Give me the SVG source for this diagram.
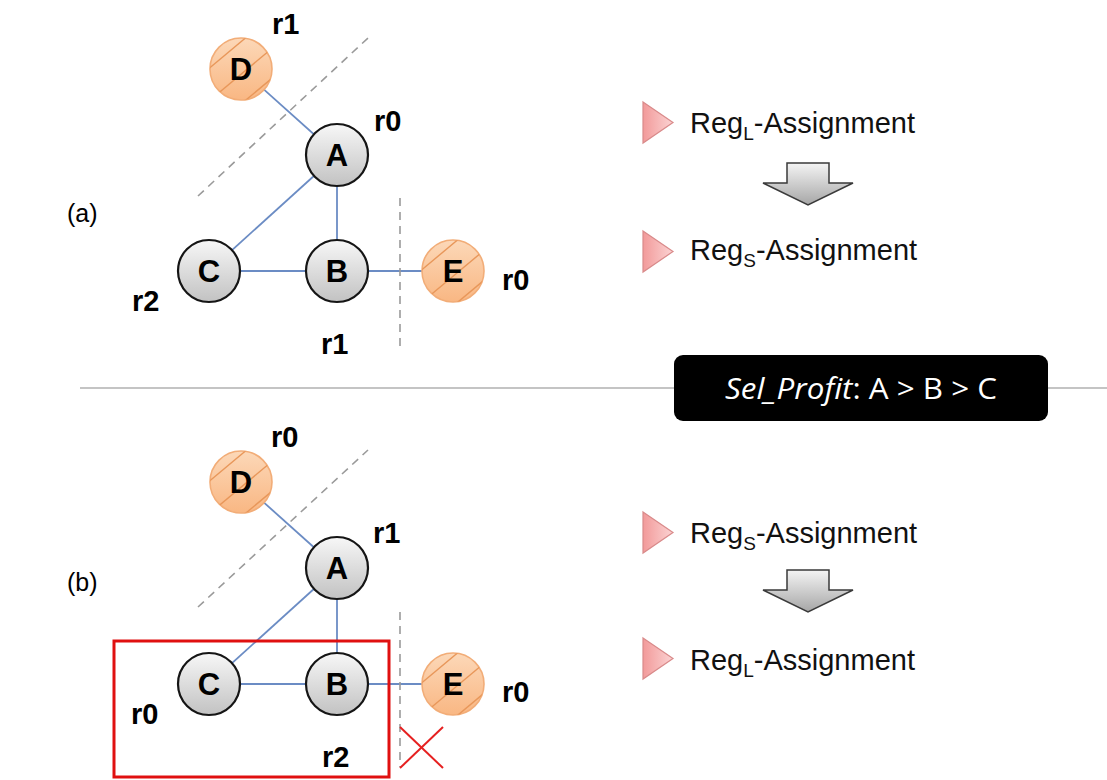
<svg xmlns="http://www.w3.org/2000/svg" xmlns:xlink="http://www.w3.org/1999/xlink" width="1107" height="780" viewBox="0 0 1107 780">
  <style>
    .edge { stroke: #6b8cc4; stroke-width: 1.8; fill: none; }
    .sep { stroke: #9a9a9a; stroke-width: 1.6; stroke-dasharray: 8 6; fill: none; }
    .gray { fill: url(#grayFill); stroke: #151515; stroke-width: 2.2; }
    .orange { fill: url(#orangeFill); stroke: #f2ad78; stroke-width: 1.6; }
    .nodeText { font-family: "Liberation Sans", Arial, sans-serif; font-weight: bold; font-size: 31px; fill: #000; text-anchor: middle; }
    .reg { font-family: "Liberation Sans", Arial, sans-serif; font-weight: bold; font-size: 29px; fill: #000; }
    .part { font-family: "Liberation Sans", Arial, sans-serif; font-size: 25px; fill: #000; }
    .step { font-family: "Liberation Sans", Arial, sans-serif; font-size: 29px; fill: #111; }
    .sub { font-size: 19px; }
    .tri { fill: url(#pinkFill); stroke: #d98a8a; stroke-width: 1.2; }
    .down { fill: url(#arrowFill); stroke: #3a3a3a; stroke-width: 1.5; stroke-linejoin: miter; }
  </style>
  <defs>
    <linearGradient id="grayFill" x1="0" y1="0" x2="0" y2="1">
      <stop offset="0" stop-color="#f7f7f7"/>
      <stop offset="1" stop-color="#c2c2c2"/>
    </linearGradient>
    <linearGradient id="orangeFill" x1="0" y1="0" x2="0" y2="1">
      <stop offset="0" stop-color="#fcd8b8"/>
      <stop offset="1" stop-color="#f9b783"/>
    </linearGradient>
    <linearGradient id="pinkFill" x1="0" y1="0" x2="1" y2="0">
      <stop offset="0" stop-color="#f29a9a"/>
      <stop offset="1" stop-color="#fbd3d3"/>
    </linearGradient>
    <linearGradient id="arrowFill" x1="0" y1="0" x2="0" y2="1">
      <stop offset="0" stop-color="#f4f4f4"/>
      <stop offset="1" stop-color="#a6a6a6"/>
    </linearGradient>
    <clipPath id="nodeClip">
      <circle cx="0" cy="0" r="31"/>
    </clipPath>
    <!-- diagonal hatching drawn inside an orange node -->
    <g id="hatch" clip-path="url(#nodeClip)" stroke="#e8975a" stroke-width="1.4" fill="none">
      <line x1="-44.1" y1="9.5" x2="17.3" y2="-41.7"/>
      <line x1="-28.1" y1="28.7" x2="33.3" y2="-22.5"/>
      <line x1="-13.4" y1="46.3" x2="48" y2="-4.9"/>
    </g>
    <polygon id="downArrow" points="-21,0 21,0 21,20 45,20 0,42 -45,20 -21,20"/>
    <polygon id="bullet" points="0,0 30,20.5 0,41"/>
  </defs>

  <rect width="1107" height="780" fill="#ffffff"/>

  <!-- section divider and selection banner -->
  <line x1="80" y1="388" x2="1107" y2="388" stroke="#b0b0b0" stroke-width="1.6"/>
  <g id="selProfit">
    <rect x="674" y="355" width="374" height="66" rx="9" fill="#000"/>
    <text x="725" y="399" textLength="272" lengthAdjust="spacingAndGlyphs" font-family="'Open Sans', 'Liberation Sans', sans-serif" font-size="29" fill="#fff"><tspan font-style="italic">Sel_Profit</tspan>: A &gt; B &gt; C</text>
  </g>

  <!-- ===== (a) ===== -->
  <text class="part" x="67" y="222">(a)</text>
  <g id="connectors-a">
    <line class="edge" x1="241" y1="69" x2="337" y2="155"/>
    <line class="edge" x1="337" y1="155" x2="209" y2="271"/>
    <line class="edge" x1="337" y1="155" x2="337" y2="271"/>
    <line class="edge" x1="209" y1="271" x2="337" y2="271"/>
    <line class="edge" x1="337" y1="271" x2="453" y2="271"/>
    <line class="sep" x1="198" y1="196" x2="368" y2="38"/>
    <line class="sep" x1="400" y1="198" x2="400" y2="347"/>
  </g>
  <g id="a-D" transform="translate(241,69)">
    <circle class="orange" r="31"/><use href="#hatch"/>
    <text class="nodeText" y="11">D</text>
  </g>
  <g id="a-A" transform="translate(337,155)">
    <circle class="gray" r="31"/>
    <text class="nodeText" y="11">A</text>
  </g>
  <g id="a-C" transform="translate(209,271)">
    <circle class="gray" r="31"/>
    <text class="nodeText" y="11">C</text>
  </g>
  <g id="a-B" transform="translate(337,271)">
    <circle class="gray" r="31"/>
    <text class="nodeText" y="11">B</text>
  </g>
  <g id="a-E" transform="translate(453,271)">
    <circle class="orange" r="31"/><use href="#hatch"/>
    <text class="nodeText" y="11">E</text>
  </g>
  <g id="a-labels">
    <text class="reg" x="272" y="34">r1</text>
    <text class="reg" x="374" y="131">r0</text>
    <text class="reg" x="132" y="311">r2</text>
    <text class="reg" x="321" y="354">r1</text>
    <text class="reg" x="502" y="290">r0</text>
  </g>
  <g id="a-steps">
    <use href="#bullet" x="643" y="102" class="tri"/>
    <text class="step" x="690" y="133">Reg<tspan class="sub" dy="7">L</tspan><tspan dy="-7">-Assignment</tspan></text>
    <use href="#downArrow" x="808" y="163" class="down"/>
    <use href="#bullet" x="643" y="231" class="tri"/>
    <text class="step" x="690" y="260">Reg<tspan class="sub" dy="7">S</tspan><tspan dy="-7">-Assignment</tspan></text>
  </g>

  <!-- ===== (b) ===== -->
  <text class="part" x="67" y="591">(b)</text>
  <g id="connectors-b">
    <line class="edge" x1="241" y1="482" x2="337" y2="568"/>
    <line class="edge" x1="337" y1="568" x2="209" y2="684"/>
    <line class="edge" x1="337" y1="568" x2="337" y2="684"/>
    <line class="edge" x1="209" y1="684" x2="337" y2="684"/>
    <line class="edge" x1="337" y1="684" x2="453" y2="684"/>
    <line class="sep" x1="198" y1="607" x2="368" y2="450"/>
    <line class="sep" x1="400" y1="612" x2="400" y2="767"/>
  </g>
  <g id="b-D" transform="translate(241,482)">
    <circle class="orange" r="31"/><use href="#hatch"/>
    <text class="nodeText" y="11">D</text>
  </g>
  <g id="b-A" transform="translate(337,568)">
    <circle class="gray" r="31"/>
    <text class="nodeText" y="11">A</text>
  </g>
  <g id="b-C" transform="translate(209,684)">
    <circle class="gray" r="31"/>
    <text class="nodeText" y="11">C</text>
  </g>
  <g id="b-B" transform="translate(337,684)">
    <circle class="gray" r="31"/>
    <text class="nodeText" y="11">B</text>
  </g>
  <g id="b-E" transform="translate(453,684)">
    <circle class="orange" r="31"/><use href="#hatch"/>
    <text class="nodeText" y="11">E</text>
  </g>
  <g id="b-labels">
    <text class="reg" x="271" y="447">r0</text>
    <text class="reg" x="373" y="543">r1</text>
    <text class="reg" x="131" y="724">r0</text>
    <text class="reg" x="322" y="767">r2</text>
    <text class="reg" x="502" y="702">r0</text>
  </g>
  <g id="b-group">
    <rect x="114" y="641" width="275" height="136" fill="none" stroke="#e01010" stroke-width="3"/>
    <line x1="400" y1="727" x2="443" y2="768" stroke="#e62020" stroke-width="2"/>
    <line x1="443" y1="727" x2="400" y2="768" stroke="#e62020" stroke-width="2"/>
  </g>
  <g id="b-steps">
    <use href="#bullet" x="643" y="512" class="tri"/>
    <text class="step" x="690" y="543">Reg<tspan class="sub" dy="7">S</tspan><tspan dy="-7">-Assignment</tspan></text>
    <use href="#downArrow" x="808" y="570" class="down"/>
    <use href="#bullet" x="643" y="638" class="tri"/>
    <text class="step" x="690" y="670">Reg<tspan class="sub" dy="7">L</tspan><tspan dy="-7">-Assignment</tspan></text>
  </g>
</svg>
